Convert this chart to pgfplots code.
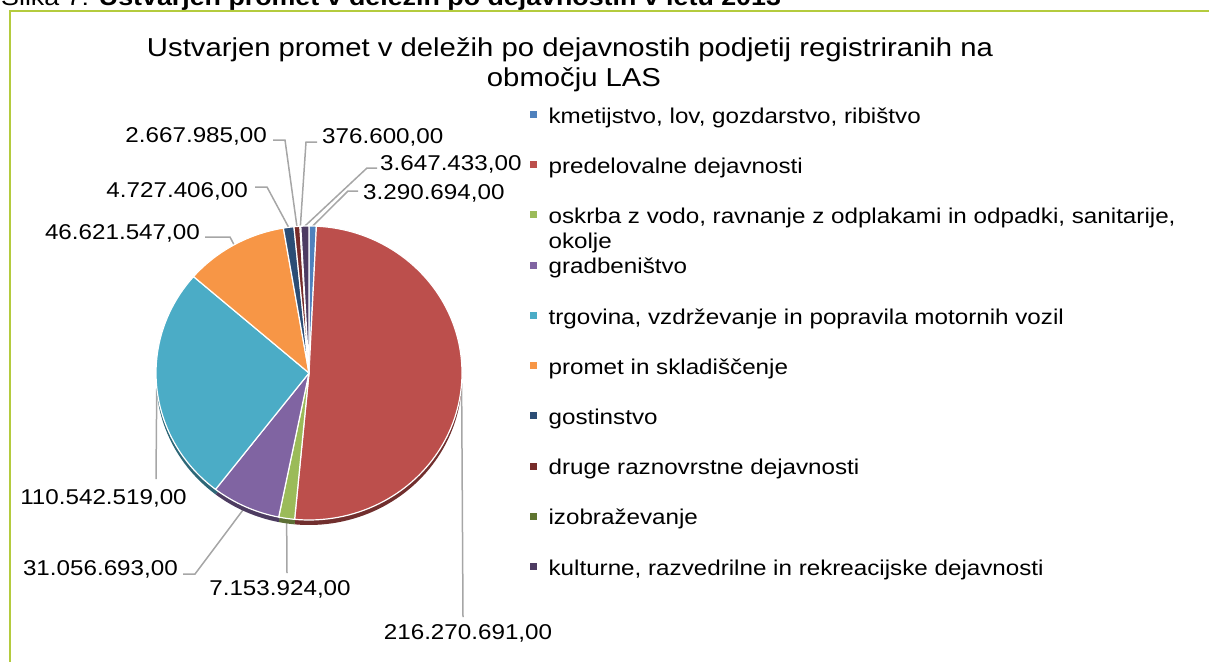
\documentclass[border=0pt]{standalone}
\usepackage{pgfplots}
\pgfplotsset{compat=1.18}
\usepackage{pgfplotstable}
\usepackage{fontspec}
\setmainfont[FakeStretch=1.13]{Liberation Sans}

\definecolor{c0}{HTML}{4F81BD}
\definecolor{c1}{HTML}{BC4F4C}
\definecolor{c2}{HTML}{9BBB59}
\definecolor{c3}{HTML}{8064A2}
\definecolor{c4}{HTML}{4BACC6}
\definecolor{c5}{HTML}{F79646}
\definecolor{c6}{HTML}{2C4D75}
\definecolor{c7}{HTML}{772C2A}
\definecolor{c8}{HTML}{5F7530}
\definecolor{c9}{HTML}{4D3B62}
\definecolor{framecol}{HTML}{B4CB3E}
\definecolor{leadcol}{HTML}{A6A6A6}

% values of the slices, clockwise from 12 o'clock
\pgfplotstableread{
value label
3290694 3.290.694,00
216270691 216.270.691,00
7153924 7.153.924,00
31056693 31.056.693,00
110542519 110.542.519,00
46621547 46.621.547,00
4727406 4.727.406,00
2667985 2.667.985,00
376600 376.600,00
3647433 3.647.433,00
}\piedata

\def\cx{309}\def\cy{373}\def\rx{153}\def\ry{147}\def\rim{5}

\gdef\pietotal{0}
\foreach \i in {0,...,9}{%
  \pgfplotstablegetelem{\i}{value}\of\piedata
  \xdef\pietotal{\fpeval{\pietotal+\pgfplotsretval}}%
}
\gdef\piecum{0}
\foreach \i in {0,...,9}{%
  \pgfplotstablegetelem{\i}{value}\of\piedata
  \expandafter\xdef\csname sa\i\endcsname{\fpeval{round(90-360*\piecum/\pietotal,4)}}%
  \xdef\piecum{\fpeval{\piecum+\pgfplotsretval}}%
  \expandafter\xdef\csname ea\i\endcsname{\fpeval{round(90-360*\piecum/\pietotal,4)}}%
  \expandafter\xdef\csname ma\i\endcsname{\fpeval{round((\csname sa\i\endcsname+\csname ea\i\endcsname)/2,4)}}%
  \pgfplotstablegetelem{\i}{label}\of\piedata
  \expandafter\xdef\csname lb\i\endcsname{\pgfplotsretval}%
}
\newcommand\SA[1]{\csname sa#1\endcsname}
\newcommand\EA[1]{\csname ea#1\endcsname}
\newcommand\MA[1]{\csname ma#1\endcsname}
\newcommand\LB[1]{\csname lb#1\endcsname}
\newcommand\edgept[1]{(axis cs:{\cx+\rx*cos(\MA{#1})},{-\cy+\ry*sin(\MA{#1})})}
\newcommand\labfont{\fontsize{21.5}{25}\selectfont}

\begin{document}
\begin{tikzpicture}
\useasboundingbox (0,0) rectangle (1209bp,-662bp);
\begin{axis}[
  at={(0,0)}, anchor=north west,
  scale only axis, width=1209bp, height=662bp,
  xmin=0, xmax=1209, ymin=-662, ymax=0,
  hide axis, clip=false,
  legend image code/.code={\fill[#1] (0bp,-2bp) rectangle (6bp,4bp);},
  legend cell align=left,
  legend style={at={(axis cs:530,-105.5)}, anchor=north west,
    draw=none, fill=none, inner sep=0pt, row sep=31.3bp,
    font=\labfont, nodes={inner sep=0pt},
    /tikz/every odd column/.append style={column sep=12bp}},
]
% frame and caption
\draw[framecol, line width=1.6bp] (axis cs:9.8,-662) -- (axis cs:9.8,-10.8) -- (axis cs:1209,-10.8);
\node[anchor=base west, inner sep=0pt, font=\fontsize{23.8}{27}\selectfont] at (axis cs:1,-5.5)
  {Slika 7: \textbf{Ustvarjen promet v deležih po dejavnostih v letu 2013}};
% title
\node[anchor=base, inner sep=0pt, font=\fontsize{26}{30}\selectfont] at (axis cs:570,-56.5)
  {Ustvarjen promet v deležih po dejavnostih podjetij registriranih na};
\node[anchor=base, inner sep=0pt, font=\fontsize{26}{30}\selectfont] at (axis cs:574,-86.5)
  {območju LAS};
% leader lines
\begin{scope}[leadcol, line width=1.5bp]
\draw \edgept{0} -- (axis cs:348,-191) -- (axis cs:358,-191);
\draw \edgept{1} -- (axis cs:463,-617);
\draw \edgept{2} -- (axis cs:287,-573);
\draw \edgept{3} -- (axis cs:195,-574) -- (axis cs:183,-574);
\draw \edgept{4} -- (axis cs:156,-479);
\draw \edgept{5} -- (axis cs:230,-237) -- (axis cs:205,-237);
\draw \edgept{6} -- (axis cs:267,-187) -- (axis cs:255,-187);
\draw \edgept{7} -- (axis cs:285,-140) -- (axis cs:273,-140);
\draw \edgept{8} -- (axis cs:306,-142) -- (axis cs:317,-142);
\draw \edgept{9} -- (axis cs:367,-168) -- (axis cs:377,-168);
\end{scope}
% rim (3D side)
\pgfplotsinvokeforeach{0,...,9}{
  \fill[c#1!60!black] (axis cs:\cx,{-\cy-\rim}) -- (axis cs:{\cx+\rx*cos(\SA{#1})},{-\cy-\rim+\ry*sin(\SA{#1})})
    arc[start angle=\SA{#1}, end angle=\EA{#1}, x radius=\rx bp, y radius=\ry bp] -- cycle;
}
% top faces
\pgfplotsinvokeforeach{0,...,9}{
  \filldraw[fill=c#1, draw=white, line width=1.2bp, line join=round] (axis cs:\cx,-\cy) -- (axis cs:{\cx+\rx*cos(\SA{#1})},{-\cy+\ry*sin(\SA{#1})})
    arc[start angle=\SA{#1}, end angle=\EA{#1}, x radius=\rx bp, y radius=\ry bp] -- cycle;
}
% data labels
\begin{scope}[font=\labfont]
\node[anchor=base west, inner sep=0pt] at (axis cs:363,-199.5) {\LB{0}};
\node[anchor=base, inner sep=0pt] at (axis cs:468,-639.7) {\LB{1}};
\node[anchor=base, inner sep=0pt] at (axis cs:280,-595.7) {\LB{2}};
\node[anchor=base east, inner sep=0pt] at (axis cs:178,-575.7) {\LB{3}};
\node[anchor=base, inner sep=0pt] at (axis cs:103.5,-504.7) {\LB{4}};
\node[anchor=base east, inner sep=0pt] at (axis cs:200,-239.7) {\LB{5}};
\node[anchor=base east, inner sep=0pt] at (axis cs:248,-197.7) {\LB{6}};
\node[anchor=base east, inner sep=0pt] at (axis cs:267,-142.7) {\LB{7}};
\node[anchor=base west, inner sep=0pt] at (axis cs:322,-143.5) {\LB{8}};
\node[anchor=base west, inner sep=0pt] at (axis cs:380,-170.5) {\LB{9}};
\end{scope}
% legend
\addlegendimage{c0}\addlegendentry{kmetijstvo, lov, gozdarstvo, ribištvo\strut}
\addlegendimage{c1}\addlegendentry{predelovalne dejavnosti\strut}
\addlegendimage{c2}\addlegendentry{\raisebox{0pt}[\height][\dp\strutbox]{\begin{tabular}[t]{@{}l@{}}oskrba z vodo, ravnanje z odplakami in odpadki, sanitarije,\\okolje\end{tabular}}}
\addlegendimage{c3}\addlegendentry{gradbeništvo\strut}
\addlegendimage{c4}\addlegendentry{trgovina, vzdrževanje in popravila motornih vozil\strut}
\addlegendimage{c5}\addlegendentry{promet in skladiščenje\strut}
\addlegendimage{c6}\addlegendentry{gostinstvo\strut}
\addlegendimage{c7}\addlegendentry{druge raznovrstne dejavnosti\strut}
\addlegendimage{c8}\addlegendentry{izobraževanje\strut}
\addlegendimage{c9}\addlegendentry{kulturne, razvedrilne in rekreacijske dejavnosti\strut}
\end{axis}
\end{tikzpicture}
\end{document}
